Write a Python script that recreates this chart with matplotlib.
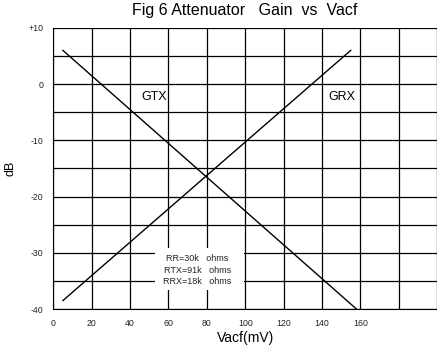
import numpy as np
import matplotlib.pyplot as plt
from matplotlib.patches import Rectangle

plt.rcParams['font.family'] = ['Liberation Sans', 'DejaVu Sans']

# Gain curves read at the end points (Vacf in mV, gain in dB)
gtx_vacf = [5, 158]
gtx_db = [6, -40]
grx_vacf = [5, 155]
grx_db = [-38.5, 6]

x_ticks = [0, 20, 40, 60, 80, 100, 120, 140, 160]
y_ticks = [10, 0, -10, -20, -30, -40]
y_tick_labels = ['+10', '0', '-10', '-20', '-30', '-40']
notes = ['RR=30k   ohms', 'RTX=91k   ohms', 'RRX=18k   ohms']

fig = plt.figure(figsize=(4.37, 3.49), dpi=100)
ax = fig.add_axes([0.122, 0.1146, 0.878, 0.8054])

# grid every 20 mV and every 5 dB
for xv in np.arange(0, 201, 20):
    ax.axvline(xv, color='black', lw=0.9, zorder=1)
for yv in np.arange(-40, 11, 5):
    ax.axhline(yv, color='black', lw=0.9, zorder=1)

ax.plot(gtx_vacf, gtx_db, color='black', lw=1.0, zorder=3)
ax.plot(grx_vacf, grx_db, color='black', lw=1.0, zorder=3)

ax.set_xlim(0, 200)
ax.set_ylim(-40, 10)
ax.set_xticks(x_ticks)
ax.set_xticklabels([str(v) for v in x_ticks], fontsize=6.3)
ax.set_yticks(y_ticks)
ax.set_yticklabels(y_tick_labels, fontsize=6.3)
ax.tick_params(length=0, pad=7, labelcolor='#222222')
for side in ['top', 'right']:
    ax.spines[side].set_visible(False)

ax.text(52.5, -2.3, 'GTX', fontsize=9, ha='center', va='center', zorder=4)
ax.text(150.5, -2.3, 'GRX', fontsize=9, ha='center', va='center', zorder=4)

# white note box with the resistor values
ax.add_patch(Rectangle((53, -36.6), 46.5, 7.4, facecolor='white',
                       edgecolor='none', zorder=4))
ax.text(75, -33.1, '\n'.join(notes), fontsize=6.5, ha='center', va='center',
        linespacing=1.35, zorder=5, color='#222222')

ax.set_title('Fig 6 Attenuator   Gain  vs  Vacf', fontsize=11.5, pad=9)
ax.set_xlabel('Vacf(mV)', fontsize=10, labelpad=2)
ax.set_ylabel('dB', fontsize=9, labelpad=9)

fig.savefig('out.png', dpi=100)
